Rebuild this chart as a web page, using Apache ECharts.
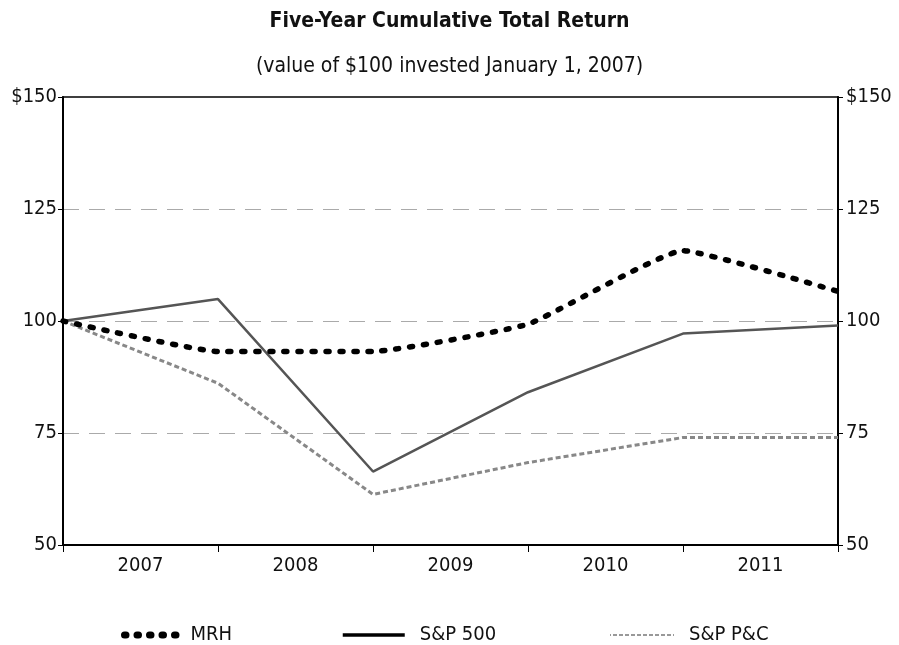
<!DOCTYPE html>
<html>
<head>
<meta charset="utf-8">
<script src="https://cdn.jsdelivr.net/npm/echarts@6/dist/echarts.min.js"></script>
<style>
  html, body { margin: 0; padding: 0; background: #fff; }
  #chart { width: 899px; height: 645px; }
</style>
</head>
<body>
<div id="chart"></div>
<script>
// year labels shown under the axis
var years = ['2007', '2008', '2009', '2010', '2011'];
// measurement points: start of 2007 and each year end
var points = ['Jan07', 'Dec07', 'Dec08', 'Dec09', 'Dec10', 'Dec11'];
var mrh = [100, 93.2, 93.2, 99.3, 115.7, 106.6];
var sp500 = [100, 104.9, 66.4, 84.1, 97.2, 99.0];
var spPC = [100, 86.1, 61.3, 68.4, 74.0, 74.0];
var yTicks = [50, 75, 100, 125, 150];

var font = "'Liberation Sans Narrow', 'DejaVu Sans Condensed', 'Liberation Sans', sans-serif";
var chart = echarts.init(document.getElementById('chart'));

function yFmt(v) {
    return v === yTicks[yTicks.length - 1] ? '$' + v : '' + v;
}

var legendText = { fontFamily: font, fontSize: 20, color: '#111' };
// hide the symbol that line series put in the middle of the legend icon
var legendItem = { opacity: 0, borderWidth: 0 };

var option = {
    backgroundColor: '#fff',
    textStyle: { fontFamily: font },
    title: {
        text: 'Five-Year Cumulative Total Return',
        subtext: '(value of $100 invested January 1, 2007)',
        left: 'center',
        top: 6,
        itemGap: 24,
        textStyle: { fontFamily: font, fontSize: 21, fontWeight: 'bold', color: '#111' },
        subtextStyle: { fontFamily: font, fontSize: 21, color: '#111' }
    },
    grid: {
        left: 63, right: 61, top: 97, bottom: 100,
        show: true, borderColor: '#000', borderWidth: 1.5, backgroundColor: 'transparent'
    },
    xAxis: [
        {
            type: 'category', data: points, boundaryGap: false, show: false
        },
        {
            type: 'category', data: years, boundaryGap: true, position: 'bottom',
            axisLine: { lineStyle: { color: '#000', width: 2 } },
            axisTick: { show: true, length: 7, lineStyle: { color: '#000' } },
            axisLabel: { fontFamily: font, fontSize: 20, color: '#111', margin: 11 },
            splitLine: { show: false }
        }
    ],
    yAxis: [
        {
            type: 'value', min: 50, max: 150, interval: 25, position: 'left',
            axisLine: { show: true, lineStyle: { color: '#000', width: 2 } },
            axisTick: { show: true, length: 5, lineStyle: { color: '#000' } },
            axisLabel: { fontFamily: font, fontSize: 20, color: '#111', margin: 6, formatter: yFmt },
            splitLine: { show: true, showMinLine: false, showMaxLine: false,
                lineStyle: { color: '#aaa', type: [16, 10], width: 1 } }
        },
        {
            type: 'value', min: 50, max: 150, interval: 25, position: 'right',
            axisLine: { show: true, lineStyle: { color: '#000', width: 2 } },
            axisTick: { show: true, length: 5, lineStyle: { color: '#000' } },
            axisLabel: { fontFamily: font, fontSize: 20, color: '#111', margin: 8, formatter: yFmt },
            splitLine: { show: false }
        }
    ],
    legend: [
        {
            data: ['MRH'], left: 113, top: 620, itemWidth: 64, itemHeight: 12, itemGap: 0,
            itemStyle: legendItem, textStyle: legendText,
            lineStyle: { color: '#000', width: 7, type: [1.5, 11], cap: 'round', dashOffset: -3 }
        },
        {
            data: ['S&P 500'], left: 336, top: 620, itemWidth: 62, itemHeight: 12,
            itemStyle: legendItem, textStyle: Object.assign({ padding: [0, 0, 0, 10] }, legendText),
            lineStyle: { color: '#000', width: 3.5 }
        },
        {
            data: ['S&P P&C'], left: 604, top: 620, itemWidth: 64, itemHeight: 12,
            itemStyle: legendItem, textStyle: Object.assign({ padding: [0, 0, 0, 10] }, legendText),
            lineStyle: { color: '#999', width: 2, type: [4, 2] }
        }
    ],
    series: [
        {
            name: 'S&P 500', type: 'line', data: sp500, symbol: 'none',
            lineStyle: { color: '#555', width: 2.5 }, itemStyle: { color: '#555' },
            z: 2
        },
        {
            name: 'S&P P&C', type: 'line', data: spPC, symbol: 'none',
            lineStyle: { color: '#888', width: 3, type: [5, 3] }, itemStyle: { color: '#888' },
            z: 3
        },
        {
            name: 'MRH', type: 'line', data: mrh, symbol: 'none', smooth: 0.12,
            lineStyle: { color: '#000', width: 5.5, type: [3, 11], cap: 'round' },
            itemStyle: { color: '#000' },
            z: 4
        }
    ]
};
chart.setOption(option);
</script>
</body>
</html>
